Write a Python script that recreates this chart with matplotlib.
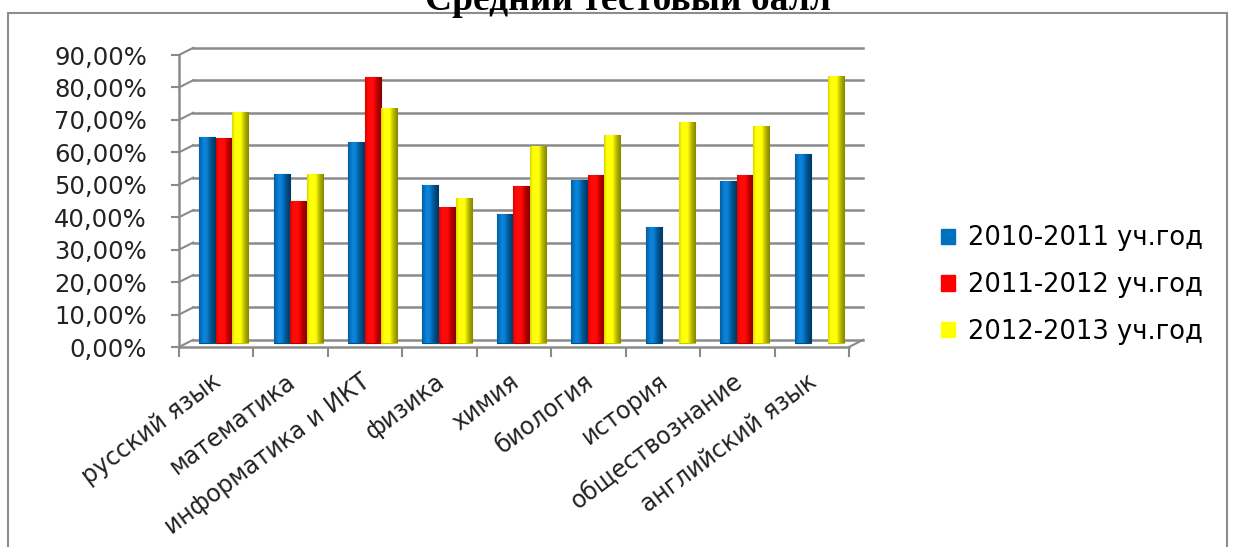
import matplotlib
matplotlib.use("Agg")
import matplotlib.pyplot as plt
import matplotlib.patches as mpatches
from matplotlib.colors import to_rgb
import numpy as np

# data (percent)
subjects = ["русский язык", "математика", "информатика и ИКТ", "физика", "химия",
            "биология", "история", "обществознание", "английский язык"]
y2011 = [63.5, 52.3, 62.2, 48.9, 39.8, 50.4, 35.9, 50.2, 58.5]
y2012 = [63.2, 43.8, 82.2, 41.9, 48.4, 51.9, np.nan, 51.9, np.nan]
y2013 = [71.2, 52.1, 72.7, 44.9, 60.8, 64.1, 68.1, 67.1, 82.5]
series_names = ["2010-2011 уч.год", "2011-2012 уч.год", "2012-2013 уч.год"]
colors = ["#0070C0", "#FF0000", "#FFFF00"]
edges = ["#00508C", "#B00000", "#C8C800"]
yticks = list(range(0, 100, 10))

plt.rcParams["font.family"] = ["DejaVu Sans"]

fig = plt.figure(figsize=(12.34, 5.47), dpi=100)

# outer chart frame (bottom edge is cut off in the original)
fig.patches.append(mpatches.Rectangle((8 / 1234, -0.05), 1219 / 1234, 1 - 13 / 547 + 0.05,
                                      transform=fig.transFigure, fill=False,
                                      edgecolor="#8C8C8C", lw=1.5))

fig.text(628 / 1234, 1 - 10 / 547, "Средний тестовый балл", ha="center", va="baseline",
         fontsize=27, fontweight="bold", family="Liberation Serif")

ax = fig.add_axes([179 / 1234, 200 / 547, 670 / 1234, 292 / 547])
ax.set_xlim(-0.5, 8.5)
ax.set_ylim(0, 90)

# pseudo-3D depth offset of the back wall (data units)
back_dx, back_dy = 0.19, 2.2
grid_c = "#8A8A8A"
for v in yticks:
    ax.plot([-0.5 + back_dx, 8.5 + back_dx], [v + back_dy, v + back_dy],
            color=grid_c, lw=1.8, clip_on=False, zorder=1)
    ax.plot([-0.5, -0.5 + back_dx], [v, v + back_dy], color=grid_c, lw=1.5,
            clip_on=False, zorder=1)
ax.plot([8.5, 8.5 + back_dx], [0, back_dy], color=grid_c, lw=1.5, clip_on=False, zorder=1)

# horizontal shading profile for a cylinder look
t = np.linspace(0, 1, 32)
shade = 0.75 + 0.35 * np.exp(-((t - 0.35) / 0.3) ** 2) - 0.2 * t ** 3

x = np.arange(len(subjects))
w = 0.215
for k, (vals, c, ec, name) in enumerate(zip([y2011, y2012, y2013], colors, edges, series_names)):
    pos = x + 0.1 + (k - 1) * 0.222
    bars = ax.bar(pos, vals, width=w, bottom=back_dy / 2, color=c, edgecolor=ec, lw=0.8,
                  zorder=3, label=name)
    base = np.array(to_rgb(c))
    grad = np.clip(base[None, None, :] * shade[None, :, None] + 0.12 * (shade[None, :, None] - 0.75), 0, 1)
    for b in bars:
        if np.isnan(b.get_height()):
            continue
        x0, y0 = b.get_x(), b.get_y()
        im = ax.imshow(grad, extent=[x0, x0 + b.get_width(), y0, y0 + b.get_height()],
                       aspect="auto", zorder=3.1, interpolation="bilinear")
        im.set_clip_path(b)

ax.set_xlim(-0.5, 8.5)
ax.set_ylim(0, 90)

for s in ["top", "right"]:
    ax.spines[s].set_visible(False)
for s in ["left", "bottom"]:
    ax.spines[s].set_color(grid_c)
    ax.spines[s].set_linewidth(1.8)
    ax.spines[s].set_zorder(2)

ax.set_yticks(yticks)
ax.set_yticklabels([f"{v:.2f}%".replace(".", ",") for v in yticks], fontsize=17.5, color="#222222")
ax.tick_params(axis="y", length=6, width=1.5, color=grid_c, pad=17)

ax.set_xticks(np.arange(-0.5, 9, 1))
ax.set_xticklabels([])
ax.tick_params(axis="x", which="major", length=7, width=1.5, color=grid_c)
ax.set_xticks(x + 0.03, minor=True)
ax.set_xticklabels(subjects, minor=True, rotation=37, ha="right", va="center",
                   rotation_mode="anchor", fontsize=17, color="#222222")
ax.tick_params(axis="x", which="minor", length=0, pad=23)

handles = [mpatches.Patch(color=c, label=n) for c, n in zip(colors, series_names)]
fig.legend(handles=handles, loc="center left", bbox_to_anchor=(918 / 1234, 1 - 285 / 547),
           frameon=False, fontsize=18.5, handlelength=0.55, handleheight=0.55,
           handletextpad=0.5, labelspacing=0.8)

fig.savefig("out.png", dpi=100)
